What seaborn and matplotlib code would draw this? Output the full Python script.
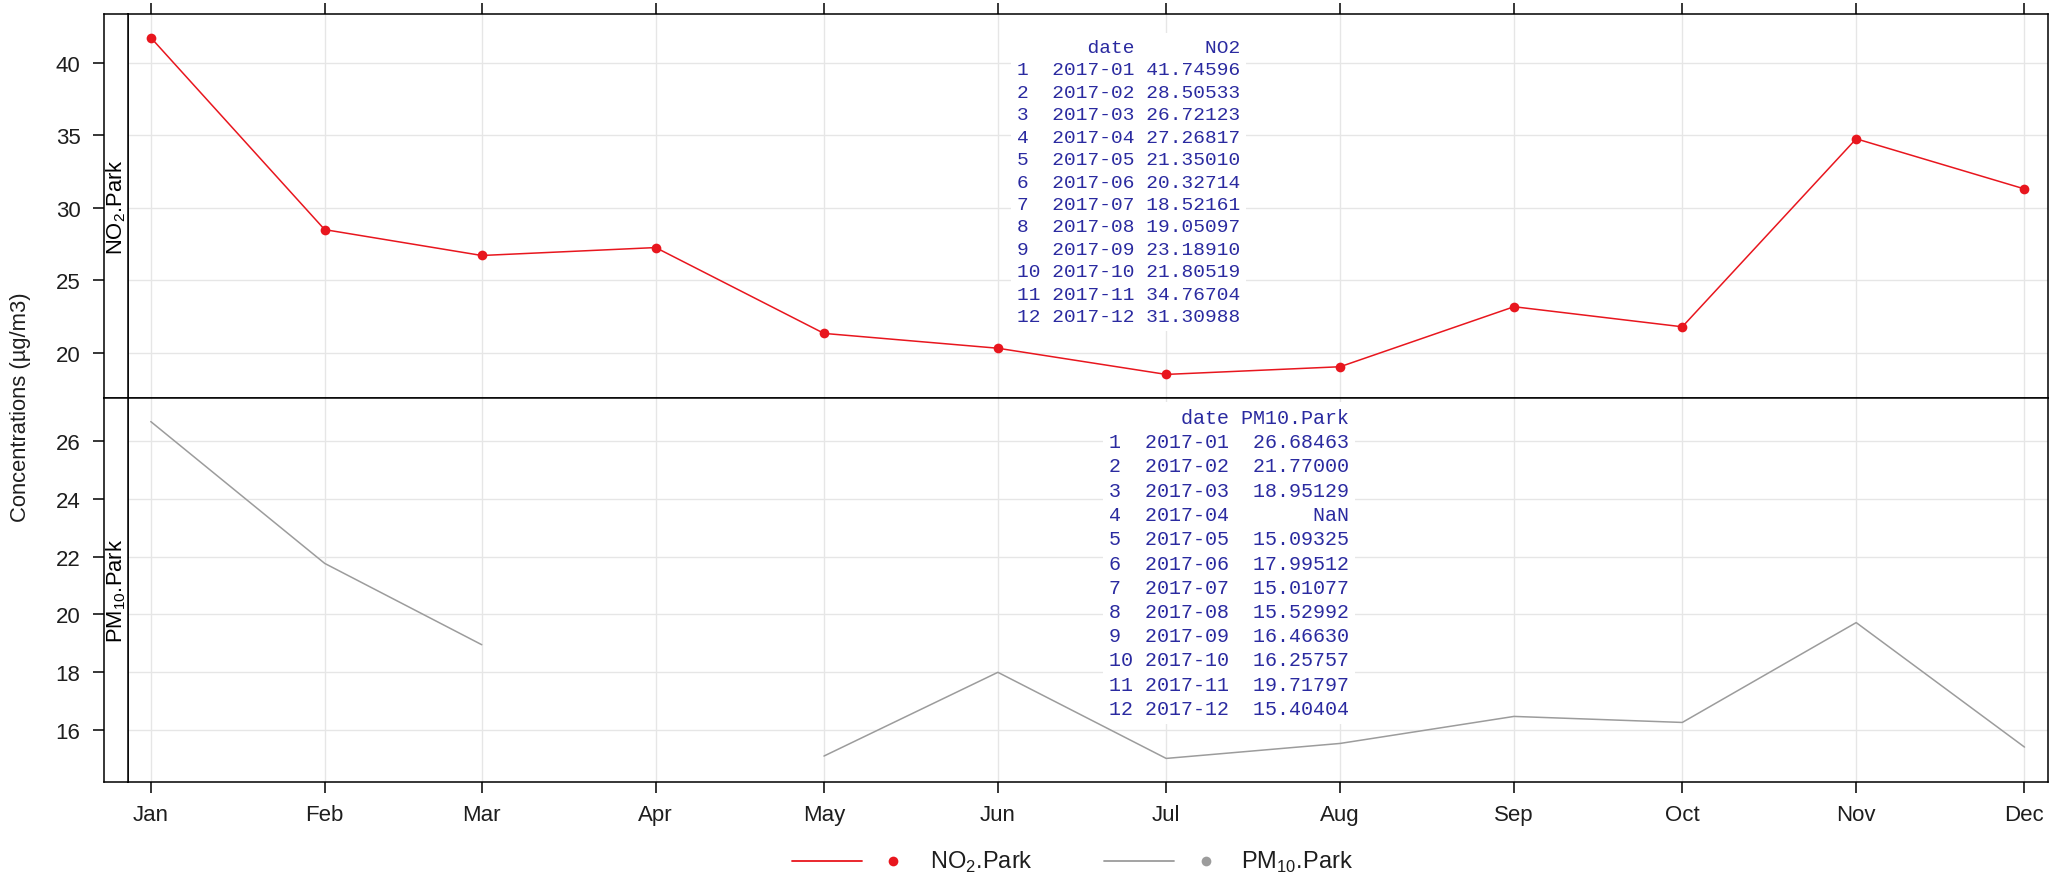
import numpy as np
import pandas as pd
import matplotlib
matplotlib.use("Agg")
import matplotlib.pyplot as plt
import seaborn as sns

# Monthly mean concentrations at the Park site, 2017
months = ["2017-01", "2017-02", "2017-03", "2017-04", "2017-05", "2017-06",
          "2017-07", "2017-08", "2017-09", "2017-10", "2017-11", "2017-12"]
month_labels = ["Jan", "Feb", "Mar", "Apr", "May", "Jun",
                "Jul", "Aug", "Sep", "Oct", "Nov", "Dec"]
no2_park = [41.74596, 28.50533, 26.72123, 27.26817, 21.35010, 20.32714,
            18.52161, 19.05097, 23.18910, 21.80519, 34.76704, 31.30988]
pm10_park = [26.68463, 21.77000, 18.95129, np.nan, 15.09325, 17.99512,
             15.01077, 15.52992, 16.46630, 16.25757, 19.71797, 15.40404]
no2_ticks = [20, 25, 30, 35, 40]
pm10_ticks = [16, 18, 20, 22, 24, 26]

RED = "#e8161e"
GREY = "#9c9c9c"
TABLE_BLUE = "#2a2aa0"
GRID = "#e6e6e6"
TXT = "#1e1e1e"

sns.set_theme(style="white")
plt.rcParams["font.family"] = ["Liberation Sans Narrow", "Liberation Sans", "DejaVu Sans"]
plt.rcParams["text.color"] = TXT
plt.rcParams["xtick.color"] = "black"
plt.rcParams["ytick.color"] = "black"
plt.rcParams["xtick.labelcolor"] = TXT
plt.rcParams["ytick.labelcolor"] = TXT

W, H = 2060, 879
fig = plt.figure(figsize=(W / 100, H / 100), dpi=100)
fig.patch.set_facecolor("white")


def box(x0, y0, x1, y1):
    return [x0 / W, 1 - y1 / H, (x1 - x0) / W, (y1 - y0) / H]


ax_top = fig.add_axes(box(128, 15, 2048, 399))
ax_bot = fig.add_axes(box(128, 399, 2048, 783))
strip_top = fig.add_axes(box(104, 15, 128, 399))
strip_bot = fig.add_axes(box(104, 399, 128, 783))

dates = pd.to_datetime([m + "-01" for m in months])


def padded(vals, frac=0.07):
    v = np.asarray(vals, dtype=float)
    lo, hi = np.nanmin(v), np.nanmax(v)
    d = (hi - lo) * frac
    return lo - d, hi + d


# NO2 panel: line with points
df_no2 = pd.DataFrame({"date": dates, "value": no2_park})
sns.lineplot(data=df_no2, x="date", y="value", ax=ax_top, color=RED,
             linewidth=1.1, marker="o", markersize=7, markeredgewidth=0,
             legend=False)

# PM10 panel: the missing month splits the line into separate pieces
df_pm = pd.DataFrame({"date": dates, "value": pm10_park})
df_pm["segment"] = df_pm["value"].isna().cumsum()
df_pm = df_pm.dropna()
sns.lineplot(data=df_pm, x="date", y="value", units="segment", estimator=None,
             ax=ax_bot, color=GREY, linewidth=1.1, legend=False)

xlo = dates[0] - pd.Timedelta(days=4.06)
xhi = dates[-1] + pd.Timedelta(days=4.19)

for ax, vals, ticks in [(ax_top, no2_park, no2_ticks), (ax_bot, pm10_park, pm10_ticks)]:
    ax.set_xlim(xlo, xhi)
    ax.set_ylim(*padded(vals))
    ax.set_xticks(dates)
    ax.set_yticks(ticks)
    ax.set_xlabel("")
    ax.set_ylabel("")
    ax.grid(True, color=GRID, linewidth=1.0)
    ax.set_axisbelow(True)
    ax.tick_params(axis="y", left=False, labelleft=False)
    for s in ax.spines.values():
        s.set_color("black")
        s.set_linewidth(1.1)
        s.set_visible(True)

ax_top.tick_params(axis="x", top=True, bottom=False, labeltop=False,
                   labelbottom=False, direction="out", length=8, width=1.1)
ax_bot.set_xticklabels(month_labels)
ax_bot.tick_params(axis="x", top=False, bottom=True, labelbottom=True,
                   direction="out", length=8, width=1.1, pad=8, labelsize=16)

# Left strips carry the panel names and the y axis ticks
for strip, ax, ticks, name in [(strip_top, ax_top, no2_ticks, r"NO$_\mathregular{2}$.Park"),
                               (strip_bot, ax_bot, pm10_ticks, r"PM$_\mathregular{10}$.Park")]:
    strip.set_facecolor("white")
    strip.set_ylim(ax.get_ylim())
    strip.set_yticks(ticks)
    strip.set_xticks([])
    strip.tick_params(axis="y", left=True, labelleft=True, direction="out",
                      length=8, width=1.1, pad=9, labelsize=16)
    for s in strip.spines.values():
        s.set_color("black")
        s.set_linewidth(1.1)
        s.set_visible(True)
    strip.text(0.5, 0.5, name, rotation=90, ha="center", va="center",
               transform=strip.transAxes, fontsize=15.8, color="black")

fig.text(21 / W, 1 - 407 / H, "Concentrations (µg/m3)", rotation=90,
         ha="center", va="center", fontsize=15.8)


# Printed monthly tables
def table_text(values, name, width):
    lines = ["   " + "date".rjust(7) + " " + name.rjust(width)]
    for i, (m, v) in enumerate(zip(months, values), 1):
        vs = "NaN" if np.isnan(v) else f"{v:.5f}"
        lines.append(f"{str(i):<2} {m} {vs.rjust(width)}")
    return "\n".join(lines)


mono = ["Liberation Mono", "DejaVu Sans Mono"]
fig.text(1017 / W, 1 - 183 / H, table_text(no2_park, "NO2", 8),
         family=mono, fontsize=14, color=TABLE_BLUE, ha="left", va="center",
         linespacing=1.42,
         bbox=dict(facecolor="white", edgecolor="none", pad=4))
fig.text(1109 / W, 1 - 564 / H, table_text(pm10_park, "PM10.Park", 9),
         family=mono, fontsize=14.4, color=TABLE_BLUE, ha="left", va="center",
         linespacing=1.35,
         bbox=dict(facecolor="white", edgecolor="none", pad=4))

# Legend row beneath the panels
leg = fig.add_axes([0, 0, 1, 1])
leg.set_xlim(0, W)
leg.set_ylim(H, 0)
leg.axis("off")
leg.patch.set_alpha(0)
for (x0, x1, xd, xt, col, label) in [
        (792, 862, 893, 930, RED, r"NO$_\mathregular{2}$.Park"),
        (1104, 1174, 1206, 1241, GREY, r"PM$_\mathregular{10}$.Park")]:
    leg.plot([x0, x1], [862, 862], color=col, linewidth=1.3)
    leg.plot([xd], [862], marker="o", markersize=7, color=col, markeredgewidth=0)
    leg.text(xt, 862, label, ha="left", va="center", fontsize=17, color=TXT)

fig.savefig("out.png", dpi=100, facecolor="white")
